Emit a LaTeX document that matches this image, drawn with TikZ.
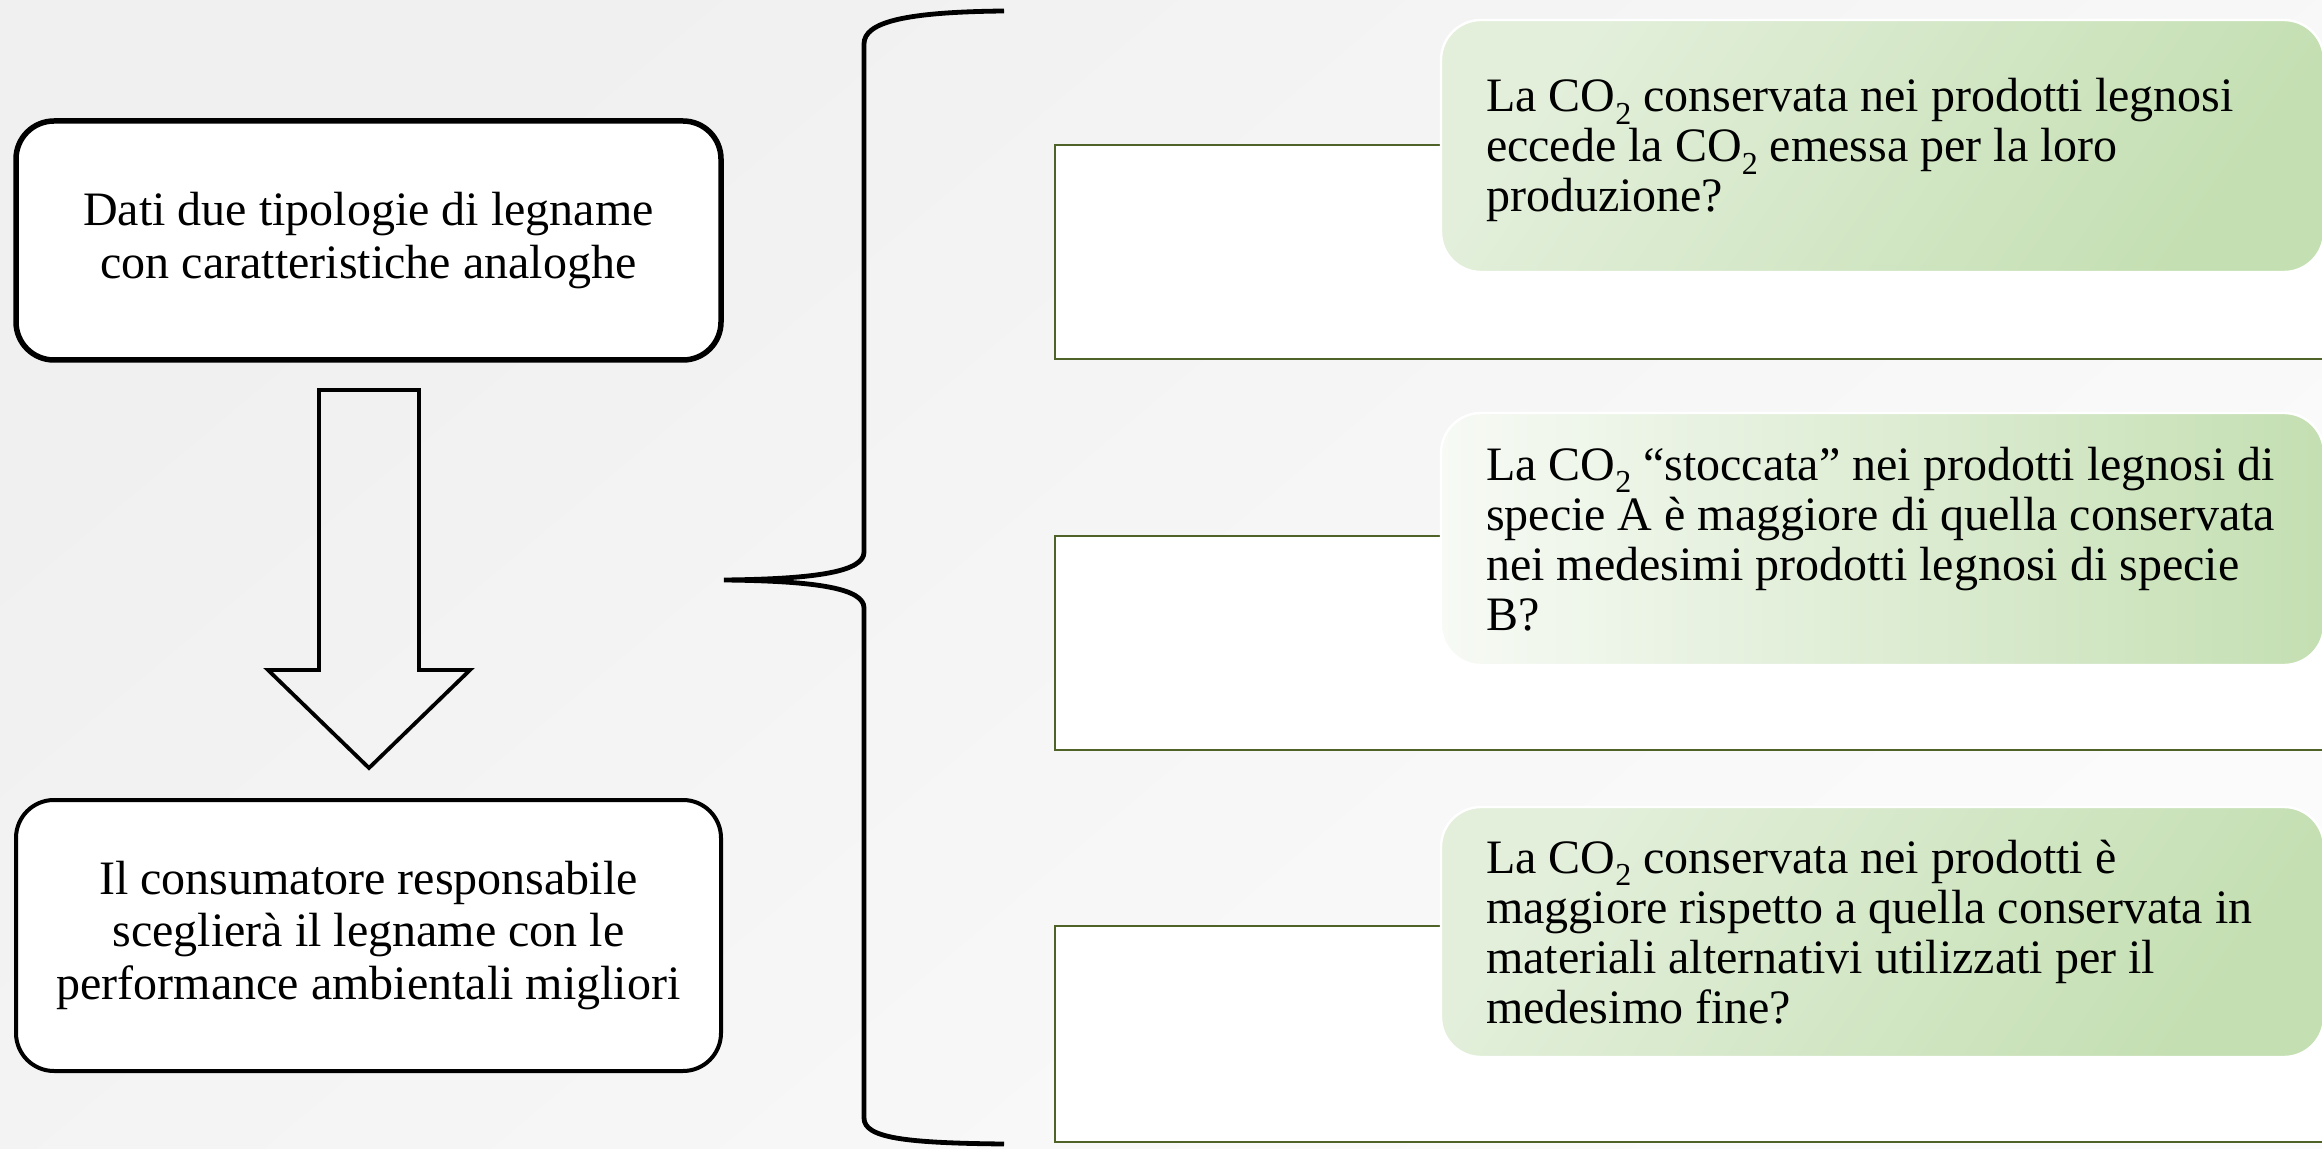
\documentclass[tikz,border=0pt]{standalone}
\usepackage{fontspec}
\setmainfont{Liberation Serif}
\definecolor{frameolive}{RGB}{79,98,40}
\definecolor{leafpale}{RGB}{227,239,219}
\definecolor{leafdeep}{RGB}{196,223,178}
\definecolor{leafwhite}{RGB}{247,250,245}
% chemical subscript, set low as in the slide text
\newcommand{\lowtwo}{\raisebox{-0.26em}{\fontsize{16}{16}\selectfont 2}}
\begin{document}
\begin{tikzpicture}[x=0.5pt,y=-0.5pt,
  every node/.style={inner sep=0pt, outer sep=0pt},
  stepnote/.style={draw=black, fill=white, rounded corners=19pt, align=center,
    font=\fontsize{24}{26.2}\selectfont, minimum width=352.5pt},
  slot/.style={draw=frameolive, line width=1.4pt, fill=white, anchor=north west,
    minimum width=642.5pt, minimum height=107pt},
  question/.style={draw=white, line width=1.2pt, rounded corners=20pt, anchor=north west,
    minimum width=441.5pt},
  qtext/.style={anchor=north west, align=left, font=\fontsize{24}{25}\selectfont},
  outline/.style={draw=black, line width=1.9pt, line join=miter},
  bracket/.style={draw=black, line width=2.4pt},
]
% canvas
\useasboundingbox (0,0) rectangle (2322,1149);
\clip (0,0) rectangle (2322,1149);
\shade[top color=black!6, bottom color=black!1.5, shading angle=40] (0,0) rectangle (2322,1149);

% left column: premise and conclusion
\node[stepnote, line width=2.75pt, minimum height=119.5pt] (dati) at (368.5,240.5)
  {Dati due tipologie di legname\\con caratteristiche analoghe};
\node[stepnote, line width=2pt, minimum height=135.5pt] (scelta) at (368.5,935.5)
  {Il consumatore responsabile\\sceglierà il legname con le\\performance ambientali migliori};

% block arrow between the two boxes
\draw[outline] (319,390) -- (419,390) -- (419,670) -- (470,670) -- (369,768)
  -- (268,670) -- (319,670) -- cycle;

% curly bracket grouping the three questions
\draw[bracket] (1004,11) .. controls (905,12) and (864,22) .. (864,44)
  -- (864,552) .. controls (864,571) and (820,579) .. (724,580)
  .. controls (820,581) and (864,589) .. (864,608)
  -- (864,1118) .. controls (864,1138) and (905,1143) .. (1004,1144);

% white slots behind the questions
\node[slot] (r1) at (1055,145) {};
\node[slot] (r2) at (1055,536) {};
\node[slot, minimum height=108pt] (r3) at (1055,926) {};

% question cards
\node[question, minimum height=126pt, top color=leafpale, bottom color=leafdeep,
  shading angle=55] (q1) at (1441,20) {};
\node[question, minimum height=126pt, left color=leafwhite, right color=leafdeep]
  (q2) at (1441,413) {};
\node[question, minimum height=125pt, top color=leafpale, bottom color=leafdeep,
  shading angle=55] (q3) at (1441,807) {};

\node[qtext] (t1) at (1486,78)
  {\rule{0pt}{17pt}La CO\lowtwo{} conservata nei prodotti legnosi\\
   eccede la CO\lowtwo{} emessa per la loro\\
   produzione?};
\node[qtext] (t2) at (1486,446)
  {\rule{0pt}{17pt}La CO\lowtwo{} “stoccata” nei prodotti legnosi di\\
   specie A è maggiore di quella conservata\\
   nei medesimi prodotti legnosi di specie\\
   B?};
\node[qtext] (t3) at (1486,839)
  {\rule{0pt}{17pt}La CO\lowtwo{} conservata nei prodotti è\\
   maggiore rispetto a quella conservata in\\
   materiali alternativi utilizzati per il\\
   medesimo fine?};
\end{tikzpicture}
\end{document}
